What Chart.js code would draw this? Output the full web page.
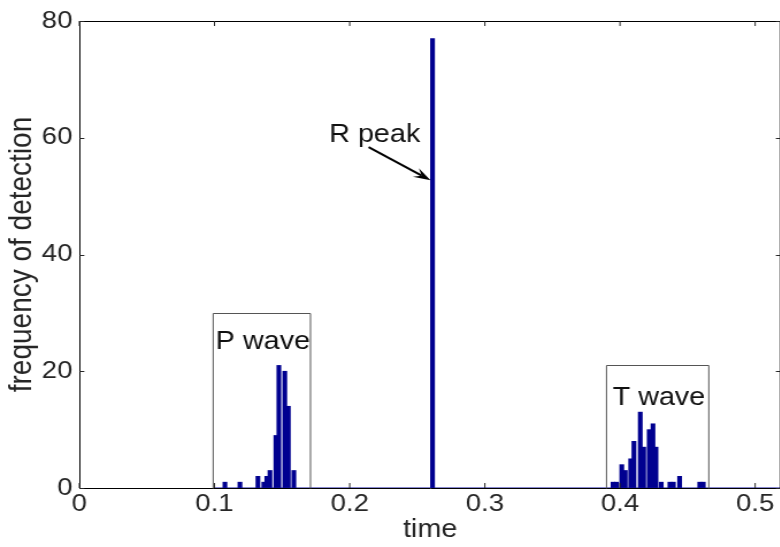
<!DOCTYPE html>
<html>
<head>
<meta charset="utf-8">
<script src="https://cdn.jsdelivr.net/npm/chart.js@4/dist/chart.umd.min.js"></script>
<style>
  html, body { margin: 0; padding: 0; background: #fff; overflow: hidden; }
  #wrap { width: 782px; height: 547px; overflow: hidden; }
  #c { width: 782px; height: 547px; display: block; }
</style>
</head>
<body>
<div id="wrap"><canvas id="c" width="680" height="547" style="width:782px;height:547px"></canvas></div>
<script>
// ---- data ----
const pWaveTimes  = [0.1077, 0.1188, 0.1321, 0.1365, 0.1387, 0.1410, 0.1454, 0.1476, 0.1520, 0.1546, 0.1587];
const pWaveCounts = [1, 1, 2, 1, 2, 3, 9, 21, 20, 14, 3];
const rPeakTimes  = [0.2613];
const rPeakCounts = [77];
const tWaveTimes  = [0.3948, 0.3974, 0.4013, 0.4039, 0.4079, 0.4103, 0.4150, 0.4175, 0.4216, 0.4244, 0.4266, 0.4305, 0.4369, 0.4395, 0.4441, 0.4590, 0.4616];
const tWaveCounts = [1, 1, 4, 3, 5, 8, 13, 7, 10, 11, 7, 1, 1, 1, 2, 1, 1];
const xTickValues = [0, 0.1, 0.2, 0.3, 0.4, 0.5];
const xTickLabels = ['0', '0.1', '0.2', '0.3', '0.4', '0.5'];
const yTickValues = [0, 20, 40, 60, 80];
const yTickLabels = ['0', '20', '40', '60', '80'];
const xRange = [0, 0.519];
const yRange = [0, 80];
// annotation boxes: [x0, x1, yTop]
const pBox = [0.099, 0.171, 30];
const tBox = [0.390, 0.4657, 21];
const pLabel = { text: 'P wave', x: 0.1358, y: 25.0 };
const tLabel = { text: 'T wave', x: 0.4288, y: 15.4 };
const rLabel = { text: 'R peak', x: 0.2185, y: 60.5 };
const rArrow = { x0: 0.214, y0: 58.4, x1: 0.2598, y1: 52.7 };
const baseline = [{ x: 0.1, y: 0 }, { x: 0.519, y: 0 }];

const toPts = (xs, ys) => xs.map((x, i) => ({ x: x, y: ys[i] }));
const barData = toPts(pWaveTimes, pWaveCounts)
  .concat(toPts(rPeakTimes, rPeakCounts))
  .concat(toPts(tWaveTimes, tWaveCounts));

// the canvas is drawn 680 px wide and shown 782 px wide (horizontal stretch, as in the reference)
const SX = 782 / 680;
const FONT = '"Liberation Sans", Arial, Helvetica, sans-serif';
const TXT = '#262626';

const decor = {
  id: 'decor',
  afterDatasetsDraw(chart) {
    const ctx = chart.ctx, xs = chart.scales.x, ys = chart.scales.y, a = chart.chartArea;
    ctx.save();
    // annotation boxes
    ctx.strokeStyle = '#555';
    ctx.lineWidth = 1;
    [pBox, tBox].forEach(b => {
      const l = xs.getPixelForValue(b[0]);
      const r = xs.getPixelForValue(b[1]);
      const t = Math.round(ys.getPixelForValue(b[2])) + 0.5;
      const btm = Math.round(ys.getPixelForValue(0)) + 0.5;
      ctx.beginPath();
      ctx.moveTo(l, btm); ctx.lineTo(l, t); ctx.lineTo(r, t); ctx.lineTo(r, btm);
      ctx.stroke();
    });
    // frame top/right
    ctx.strokeStyle = '#000';
    ctx.beginPath();
    ctx.moveTo(a.left, a.top + 0.5); ctx.lineTo(a.right, a.top + 0.5);
    ctx.moveTo(a.right - 0.5, a.top); ctx.lineTo(a.right - 0.5, a.bottom);
    ctx.stroke();
    // inward ticks
    ctx.strokeStyle = '#262626';
    const tl = 5, tlx = 5 / SX;
    ctx.beginPath();
    xTickValues.forEach(v => {
      const px = xs.getPixelForValue(v);
      ctx.moveTo(px, a.bottom); ctx.lineTo(px, a.bottom - tl);
      ctx.moveTo(px, a.top); ctx.lineTo(px, a.top + tl);
    });
    yTickValues.forEach(v => {
      const py = Math.round(ys.getPixelForValue(v)) + 0.5;
      ctx.moveTo(a.left, py); ctx.lineTo(a.left + tlx, py);
      ctx.moveTo(a.right, py); ctx.lineTo(a.right - tlx, py);
    });
    ctx.stroke();
    // labels
    ctx.fillStyle = '#111';
    ctx.font = '25px ' + FONT;
    ctx.textAlign = 'center';
    ctx.textBaseline = 'middle';
    [pLabel, tLabel, rLabel].forEach(L => {
      ctx.fillText(L.text, xs.getPixelForValue(L.x), ys.getPixelForValue(L.y));
    });
    // arrow
    const x0 = xs.getPixelForValue(rArrow.x0), y0 = ys.getPixelForValue(rArrow.y0);
    const x1 = xs.getPixelForValue(rArrow.x1), y1 = ys.getPixelForValue(rArrow.y1);
    const ang = Math.atan2(y1 - y0, x1 - x0);
    ctx.strokeStyle = '#000';
    ctx.fillStyle = '#000';
    ctx.lineWidth = 2;
    ctx.beginPath();
    ctx.moveTo(x0, y0);
    ctx.lineTo(x1 - 9 * Math.cos(ang), y1 - 9 * Math.sin(ang));
    ctx.stroke();
    const hl = 15, hw = 5;
    ctx.beginPath();
    ctx.moveTo(x1, y1);
    ctx.lineTo(x1 - hl * Math.cos(ang) + hw * Math.sin(ang), y1 - hl * Math.sin(ang) - hw * Math.cos(ang));
    ctx.lineTo(x1 - 0.6 * hl * Math.cos(ang), y1 - 0.6 * hl * Math.sin(ang));
    ctx.lineTo(x1 - hl * Math.cos(ang) - hw * Math.sin(ang), y1 - hl * Math.sin(ang) + hw * Math.cos(ang));
    ctx.closePath();
    ctx.fill();
    ctx.restore();
  }
};

new Chart(document.getElementById('c'), {
  data: {
    datasets: [
      {
        type: 'bar',
        data: barData,
        backgroundColor: '#000090',
        borderWidth: 0,
        barThickness: 4 / SX,
        grouped: false,
        order: 2
      },
      {
        type: 'line',
        data: baseline,
        borderColor: '#1010a0',
        borderWidth: 1,
        pointRadius: 0,
        order: 1
      }
    ]
  },
  options: {
    responsive: false,
    animation: false,
    devicePixelRatio: 1,
    layout: { padding: { top: 21, right: 1, left: 0, bottom: 0 } },
    plugins: { legend: { display: false }, tooltip: { enabled: false } },
    scales: {
      x: {
        type: 'linear',
        offset: false,
        min: xRange[0], max: xRange[1],
        afterBuildTicks: s => { s.ticks = xTickValues.map(v => ({ value: v })); },
        afterFit: s => { s.height = 59; },
        grid: { display: false, drawTicks: false },
        border: { display: true, color: '#000', width: 1 },
        ticks: {
          padding: 2,
          color: TXT,
          font: { family: FONT, size: 24 },
          maxRotation: 0,
          callback: (v) => xTickLabels[xTickValues.indexOf(v)] ?? ''
        },
        title: { display: true, text: 'time', color: TXT, font: { family: FONT, size: 25 }, padding: { top: 0, bottom: 2 } }
      },
      y: {
        type: 'linear',
        min: yRange[0], max: yRange[1],
        afterBuildTicks: s => { s.ticks = yTickValues.map(v => ({ value: v })); },
        afterFit: s => { s.width = 69; },
        grid: { display: false, drawTicks: false },
        border: { display: true, color: '#000', width: 1 },
        ticks: {
          padding: 6,
          color: TXT,
          font: { family: FONT, size: 24 },
          callback: (v) => yTickLabels[yTickValues.indexOf(v)] ?? ''
        },
        title: { display: true, text: 'frequency of detection', color: TXT, font: { family: FONT, size: 28 }, padding: { top: 2, bottom: 0 } }
      }
    }
  },
  plugins: [decor]
});
</script>
</body>
</html>
